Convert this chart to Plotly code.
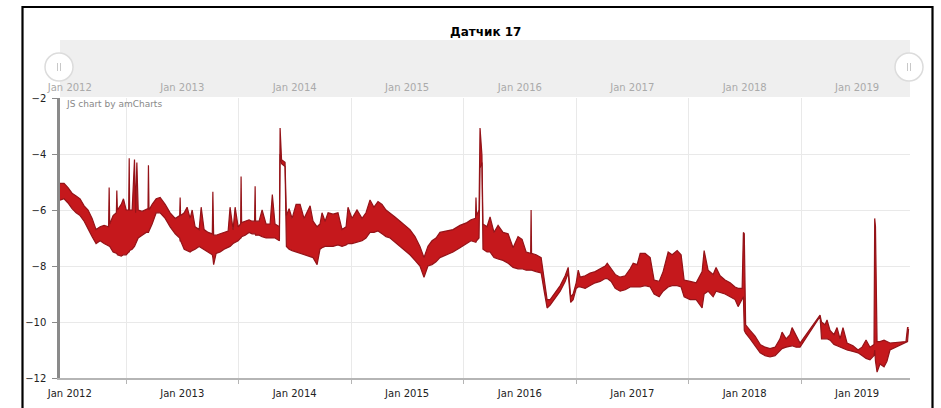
import pandas as pd
import plotly.graph_objects as go

# Sensor 17 readings, min/max envelope per sample (decimal year)
sample_year = [
    2012.413, 2012.449, 2012.484, 2012.520, 2012.556, 2012.591, 2012.627, 2012.662, 2012.698, 2012.733,
    2012.769, 2012.804, 2012.844, 2012.849, 2012.854, 2012.884, 2012.913, 2012.917, 2012.922, 2012.956,
    2012.976, 2013.000, 2013.022, 2013.027, 2013.031, 2013.053, 2013.074, 2013.084, 2013.095, 2013.107,
    2013.142, 2013.178, 2013.194, 2013.198, 2013.203, 2013.231, 2013.267, 2013.302, 2013.347, 2013.391,
    2013.436, 2013.476, 2013.480, 2013.484, 2013.516, 2013.542, 2013.569, 2013.587, 2013.613, 2013.649,
    2013.667, 2013.693, 2013.729, 2013.766, 2013.771, 2013.778, 2013.800, 2013.836, 2013.871, 2013.907,
    2013.924, 2013.951, 2013.969, 2013.996, 2014.018, 2014.022, 2014.027, 2014.058, 2014.093, 2014.120,
    2014.142, 2014.147, 2014.151, 2014.182, 2014.209, 2014.244, 2014.280, 2014.300, 2014.324, 2014.363,
    2014.369, 2014.382, 2014.413, 2014.425, 2014.449, 2014.476, 2014.511, 2014.547, 2014.582, 2014.636,
    2014.662, 2014.698, 2014.724, 2014.742, 2014.769, 2014.796, 2014.840, 2014.884, 2014.920, 2014.956,
    2014.973, 2015.009, 2015.053, 2015.098, 2015.133, 2015.169, 2015.204, 2015.240, 2015.276, 2015.311,
    2015.347, 2015.391, 2015.436, 2015.480, 2015.524, 2015.569, 2015.613, 2015.649, 2015.684, 2015.720,
    2015.756, 2015.791, 2015.844, 2015.907, 2015.969, 2016.031, 2016.067, 2016.107, 2016.111, 2016.116,
    2016.138, 2016.147, 2016.164, 2016.173, 2016.209, 2016.236, 2016.271, 2016.307, 2016.351, 2016.396,
    2016.440, 2016.484, 2016.520, 2016.556, 2016.596, 2016.600, 2016.604, 2016.644, 2016.689, 2016.716,
    2016.742, 2016.769, 2016.813, 2016.858, 2016.902, 2016.929, 2016.951, 2016.973, 2017.000, 2017.018,
    2017.036, 2017.080, 2017.124, 2017.169, 2017.213, 2017.258, 2017.276, 2017.311, 2017.347, 2017.391,
    2017.436, 2017.480, 2017.507, 2017.542, 2017.569, 2017.613, 2017.658, 2017.693, 2017.738, 2017.773,
    2017.818, 2017.853, 2017.898, 2017.933, 2017.960, 2018.013, 2018.067, 2018.120, 2018.138, 2018.173,
    2018.218, 2018.244, 2018.280, 2018.324, 2018.369, 2018.413, 2018.440, 2018.476, 2018.487, 2018.495,
    2018.507, 2018.547, 2018.591, 2018.636, 2018.680, 2018.724, 2018.769, 2018.813, 2018.831, 2018.867,
    2018.902, 2018.920, 2018.956, 2018.991, 2019.169, 2019.182, 2019.213, 2019.231, 2019.258, 2019.293,
    2019.320, 2019.347, 2019.373, 2019.409, 2019.462, 2019.507, 2019.542, 2019.578, 2019.613, 2019.649,
    2019.655, 2019.662, 2019.676, 2019.702, 2019.738, 2019.764, 2019.791, 2019.933, 2019.947, 2019.956,
]

sensor_min = [
    -5.65, -5.60, -5.75, -5.95, -6.10, -6.20, -6.40, -6.70, -6.95, -7.20,
    -7.10, -7.20, -7.30, -7.30, -7.30, -7.50, -7.55, -7.55, -7.60, -7.65,
    -7.60, -7.60, -7.50, -7.50, -7.45, -7.40, -7.30, -7.20, -7.15, -7.00,
    -6.90, -6.80, -6.80, -6.80, -6.75, -6.50, -6.10, -6.10, -6.30, -6.60,
    -6.85, -7.00, -7.10, -7.10, -7.40, -7.45, -7.50, -7.45, -7.40, -7.30,
    -7.35, -7.40, -7.50, -7.60, -7.70, -7.95, -7.55, -7.50, -7.40, -7.35,
    -7.30, -7.20, -7.15, -7.10, -7.00, -7.00, -6.95, -6.90, -6.80, -6.85,
    -6.85, -6.85, -6.90, -6.90, -6.95, -7.00, -7.00, -7.00, -7.00, -7.10,
    -4.00, -4.35, -4.45, -7.30, -7.40, -7.45, -7.50, -7.55, -7.60, -7.65,
    -7.70, -7.95, -7.40, -7.35, -7.30, -7.30, -7.30, -7.25, -7.30, -7.25,
    -7.20, -7.20, -7.15, -7.10, -7.00, -6.80, -6.80, -6.75, -6.85, -6.95,
    -7.00, -7.15, -7.30, -7.45, -7.60, -7.80, -8.00, -8.40, -8.00, -7.95,
    -7.85, -7.70, -7.60, -7.50, -7.35, -7.20, -7.10, -7.15, -7.15, -7.10,
    -7.00, -4.50, -4.30, -7.40, -7.50, -7.50, -7.70, -7.75, -7.80, -7.90,
    -8.05, -8.10, -8.10, -8.15, -8.15, -8.15, -8.15, -8.20, -8.25, -8.90,
    -9.50, -9.40, -9.15, -8.90, -8.55, -8.25, -9.30, -9.20, -8.80, -8.75,
    -8.75, -8.80, -8.70, -8.60, -8.55, -8.45, -8.45, -8.55, -8.80, -8.90,
    -8.85, -8.75, -8.75, -8.75, -8.75, -8.70, -8.75, -9.00, -9.10, -8.90,
    -8.75, -8.70, -8.70, -8.75, -9.10, -9.20, -9.20, -9.50, -9.00, -8.90,
    -9.10, -8.90, -8.95, -9.00, -9.10, -9.20, -9.45, -9.20, -9.10, -10.30,
    -10.40, -10.60, -10.85, -11.10, -11.20, -11.25, -11.20, -11.00, -10.95, -10.90,
    -10.85, -10.85, -10.90, -10.90, -9.80, -10.60, -10.60, -10.60, -10.65, -10.80,
    -10.85, -10.90, -10.95, -11.00, -11.05, -11.10, -11.20, -11.30, -11.35, -11.20,
    -11.00, -11.40, -11.79, -11.50, -11.60, -11.40, -11.00, -10.75, -10.70, -10.25,
]

sensor_max = [
    -5.05, -5.05, -5.20, -5.40, -5.50, -5.60, -5.85, -6.00, -6.30, -6.70,
    -6.60, -6.55, -6.60, -5.20, -6.50, -6.20, -6.10, -5.30, -6.00, -5.80,
    -5.60, -6.00, -6.00, -4.15, -6.00, -6.00, -4.20, -6.10, -4.30, -6.00,
    -6.05, -6.00, -5.95, -4.40, -6.00, -5.80, -5.60, -5.55, -5.80, -6.10,
    -6.30, -6.20, -5.55, -6.20, -6.10, -5.90, -6.30, -6.00, -6.60, -6.70,
    -5.90, -6.70, -6.80, -6.85, -5.35, -6.90, -6.90, -6.85, -6.80, -6.75,
    -5.90, -6.70, -5.90, -6.60, -6.50, -4.80, -6.45, -6.40, -6.35, -6.40,
    -6.40, -5.15, -6.40, -6.40, -6.00, -6.50, -6.50, -5.45, -6.50, -6.60,
    -3.07, -4.20, -4.30, -6.20, -5.95, -6.30, -5.80, -5.80, -6.30, -5.85,
    -6.40, -6.60, -6.50, -6.10, -6.40, -6.10, -6.15, -6.10, -6.70, -6.60,
    -5.90, -6.30, -6.00, -6.30, -6.10, -5.64, -5.90, -5.70, -5.80, -6.00,
    -6.10, -6.25, -6.40, -6.55, -6.70, -6.95, -7.30, -7.70, -7.30, -7.10,
    -7.00, -6.80, -6.75, -6.70, -6.55, -6.45, -6.35, -6.30, -5.55, -6.20,
    -6.00, -3.07, -4.05, -6.50, -6.60, -6.25, -6.80, -6.55, -6.80, -6.85,
    -7.35, -6.95, -7.05, -7.50, -7.55, -6.00, -7.55, -7.60, -7.70, -8.40,
    -9.20, -9.20, -8.95, -8.70, -8.35, -8.05, -9.10, -9.00, -8.60, -8.15,
    -8.40, -8.35, -8.25, -8.20, -8.10, -8.00, -7.90, -8.10, -8.30, -8.40,
    -8.35, -8.10, -7.90, -7.95, -7.55, -7.55, -7.70, -8.50, -8.55, -8.20,
    -7.50, -7.60, -7.45, -7.60, -8.50, -8.55, -8.60, -8.20, -7.45, -8.15,
    -8.30, -8.05, -8.35, -8.50, -8.60, -8.75, -8.80, -8.80, -6.80, -6.85,
    -10.10, -10.30, -10.50, -10.80, -10.90, -10.95, -10.90, -10.60, -10.36, -10.60,
    -10.45, -10.20, -10.50, -10.75, -9.75, -10.00, -10.10, -9.93, -10.30, -10.45,
    -10.20, -10.60, -10.20, -10.75, -10.85, -11.00, -10.90, -10.64, -10.90, -10.80,
    -6.30, -6.60, -10.70, -10.70, -10.65, -10.70, -10.75, -10.70, -10.20, -10.20,
]

label_years = [2012, 2013, 2014, 2015, 2016, 2017, 2018, 2019]
y_ticks = [-12, -10, -8, -6, -4, -2]
title_text = "Датчик 17"
credit_text = "JS chart by amCharts"


def year_to_date(y):
    base = int(y)
    start = pd.Timestamp(base, 1, 1)
    end = pd.Timestamp(base + 1, 1, 1)
    return start + (end - start) * (y - base)


dates = [year_to_date(v) for v in sample_year]
x_start = year_to_date(2012.413)
x_end = year_to_date(2019.969)

# each year's label sits in the middle of its period, grid lines on 1 January
label_pos = [pd.Timestamp(y, 7, 2) for y in label_years]
label_text = ["Jan %d" % y for y in label_years]

LINE = "#941318"
FILL = "#c5181c"

fig = go.Figure()
fig.add_trace(go.Scatter(
    x=dates, y=sensor_min, mode="lines",
    line=dict(color=LINE, width=1.2), hoverinfo="skip", showlegend=False,
))
fig.add_trace(go.Scatter(
    x=dates, y=sensor_max, mode="lines", fill="tonexty", fillcolor=FILL,
    line=dict(color=LINE, width=1.2), name=title_text, showlegend=False,
))
# invisible trace to carry the top (scrollbar) date axis
fig.add_trace(go.Scatter(
    x=[x_start, x_end], y=[-12, -12], xaxis="x2", mode="lines",
    line=dict(width=0), hoverinfo="skip", showlegend=False,
))

W, H = 941, 408
L, R, T, B = 60, 31, 98, 30
pw, ph = W - L - R, H - T - B


def px(x):
    return (x - L) / pw


def py(y):
    return (H - B - y) / ph


shapes = [
    # scrollbar band
    dict(type="rect", xref="paper", yref="paper", x0=px(60), x1=px(910), y0=py(97), y1=py(40),
         fillcolor="#efefef", line=dict(width=0), layer="below"),
]
for cx in (59, 909):
    cy, r = 67, 14
    shapes.append(dict(type="circle", xref="paper", yref="paper",
                       x0=px(cx - r), x1=px(cx + r), y0=py(cy + r), y1=py(cy - r),
                       fillcolor="#ffffff", line=dict(color="#dcdcdc", width=1.5), layer="above"))
    for gx in (cx - 1.5, cx + 1.5):
        shapes.append(dict(type="line", xref="paper", yref="paper",
                           x0=px(gx), x1=px(gx), y0=py(cy - 4), y1=py(cy + 4),
                           line=dict(color="#c8c8c8", width=1), layer="above"))
# outer frame
shapes.append(dict(type="rect", xref="paper", yref="paper", x0=px(22.5), x1=px(932.5),
                   y0=py(430), y1=py(7), line=dict(color="#000000", width=2.2),
                   fillcolor="rgba(0,0,0,0)", layer="above"))

FONT = "DejaVu Sans, Verdana, sans-serif"

fig.update_layout(
    width=W, height=H,
    margin=dict(l=L, r=R, t=T, b=B, autoexpand=False),
    paper_bgcolor="#ffffff", plot_bgcolor="#ffffff",
    font=dict(family=FONT, size=10, color="#222222"),
    showlegend=False,
    shapes=shapes,
    annotations=[
        dict(text="<b>%s</b>" % title_text, xref="paper", yref="paper", x=px(485), y=py(32),
             xanchor="center", yanchor="middle", showarrow=False,
             font=dict(family=FONT, size=12, color="#000000")),
        dict(text=credit_text, xref="paper", yref="paper", x=px(64), y=py(104),
             xanchor="left", yanchor="middle", showarrow=False,
             font=dict(family=FONT, size=9, color="#888888")),
    ],
    xaxis=dict(
        type="date", range=[x_start, x_end], automargin=False,
        tickvals=label_pos, ticktext=label_text, ticks="", showgrid=False,
        ticklabelstandoff=5,
        minor=dict(tick0="2012-01-01", dtick="M12", showgrid=True, gridcolor="#e9e9e9",
                   gridwidth=1, ticks="outside", ticklen=4, tickcolor="#b5b5b5"),
        showline=True, linecolor="#b5b5b5", linewidth=1.5,
        tickfont=dict(size=10, color="#222222"), zeroline=False,
    ),
    xaxis2=dict(
        type="date", overlaying="x", side="top", matches="x", anchor="y", automargin=False,
        tickvals=label_pos, ticktext=label_text,
        ticks="outside", ticklen=2, tickcolor="rgba(0,0,0,0)",
        showgrid=False, showline=False,
        tickfont=dict(size=10, color="#aaaaaa"),
    ),
    yaxis=dict(
        range=[-12, -2], tickvals=y_ticks, automargin=False,
        showgrid=True, gridcolor="#e9e9e9", gridwidth=1,
        showline=True, linecolor="#8a8a8a", linewidth=2.5,
        ticks="outside", ticklen=5, tickcolor="#8a8a8a", ticklabelstandoff=4,
        tickfont=dict(size=10, color="#222222"), zeroline=False,
    ),
)

fig.write_html("out.html")
